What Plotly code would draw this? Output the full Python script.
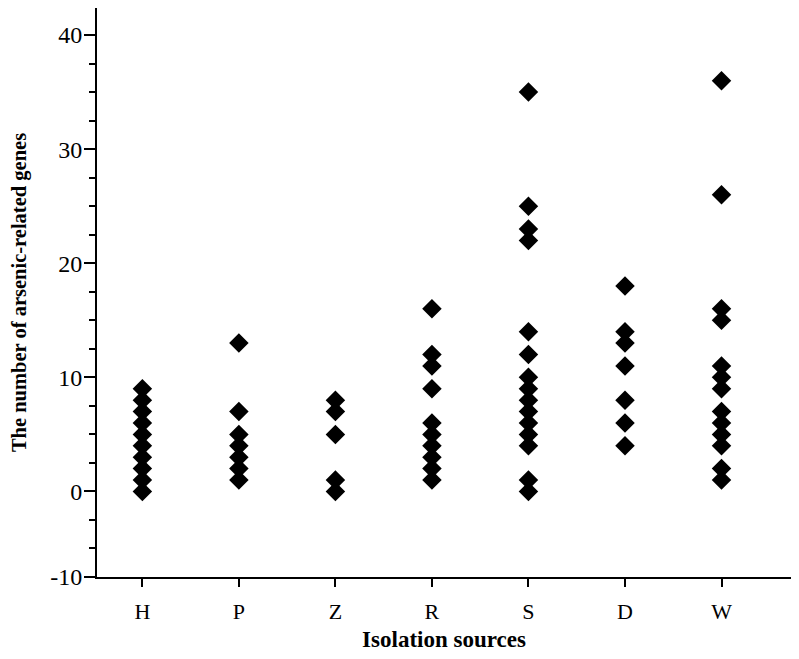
import plotly.graph_objects as go

sources = ["H", "P", "Z", "R", "S", "D", "W"]

genes_h = [0, 1, 2, 3, 4, 5, 6, 7, 8, 9]
genes_p = [1, 2, 3, 4, 5, 7, 13]
genes_z = [0, 1, 5, 7, 8]
genes_r = [1, 2, 3, 4, 5, 6, 9, 11, 12, 16]
genes_s = [0, 1, 4, 5, 6, 7, 8, 9, 10, 12, 14, 22, 23, 25, 35]
genes_d = [4, 6, 8, 11, 13, 14, 18]
genes_w = [1, 2, 4, 5, 6, 7, 9, 10, 11, 15, 16, 26, 36]

y_tickvals = [-7.5, 0, 10, 20, 30, 40]
y_ticktext = ["-10", "0", "10", "20", "30", "40"]

groups = [genes_h, genes_p, genes_z, genes_r, genes_s, genes_d, genes_w]
xs, ys = [], []
for src, vals in zip(sources, groups):
    xs += [src] * len(vals)
    ys += vals

fig = go.Figure(
    go.Scatter(
        x=xs,
        y=ys,
        mode="markers",
        marker=dict(symbol="diamond", size=15, color="black"),
        showlegend=False,
    )
)

serif = "Liberation Serif, Times New Roman, serif"

# the page body adds an 8px offset, margins account for it
fig.update_layout(
    width=799,
    height=659,
    margin=dict(l=89, r=16, t=0, b=90),
    plot_bgcolor="white",
    paper_bgcolor="white",
    font=dict(family=serif, color="black", size=20),
)

fig.update_xaxes(
    type="category",
    categoryorder="array",
    categoryarray=sources,
    range=[-0.47, 6.72],
    automargin=False,
    showline=True,
    linecolor="black",
    linewidth=2,
    ticks="outside",
    ticklen=8,
    tickwidth=2,
    tickcolor="black",
    ticklabelstandoff=6,
    showgrid=False,
    zeroline=False,
    tickfont=dict(size=22),
    title=dict(text="<b>Isolation sources</b>", font=dict(size=23), standoff=7),
)

fig.update_yaxes(
    range=[-7.5, 42.37],
    tickvals=y_tickvals,
    ticktext=y_ticktext,
    automargin=False,
    showline=True,
    linecolor="black",
    linewidth=2,
    ticks="outside",
    ticklen=11,
    tickwidth=2,
    tickcolor="black",
    ticklabelstandoff=-3,
    minor=dict(dtick=2.5, tick0=0, ticks="outside", ticklen=6, tickwidth=2, tickcolor="black"),
    showgrid=False,
    zeroline=False,
    tickfont=dict(size=24),
    title=dict(text="<b>The number of arsenic-related genes</b>", font=dict(size=20.5), standoff=21),
)

fig.write_html("out.html")
